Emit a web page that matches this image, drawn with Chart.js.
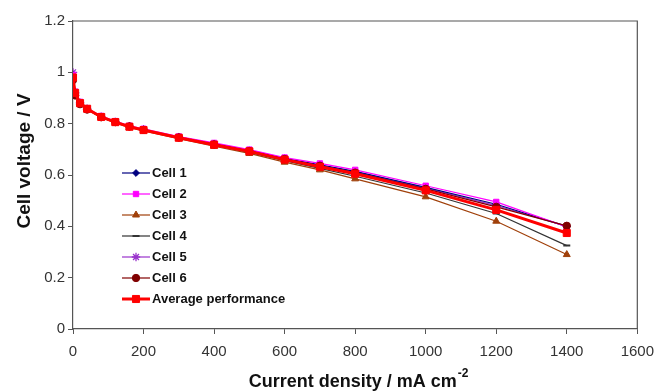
<!DOCTYPE html>
<html>
<head>
<meta charset="utf-8">
<script src="https://cdn.jsdelivr.net/npm/chart.js@4/dist/chart.umd.min.js"></script>
<style>
  html, body { margin: 0; padding: 0; background: #fff; }
  #wrap { width: 663px; height: 391px; position: relative; }
</style>
</head>
<body>
<div id="wrap"><canvas id="chart"></canvas></div>
<script>
// current density (mA cm-2)
const currentDensity = [0, 6, 20, 40, 80, 120, 160, 200, 300, 400, 500, 600, 700, 800, 1000, 1200, 1400];

// cell voltages (V)
const cell1 = [0.99, 0.92, 0.88, 0.858, 0.827, 0.807, 0.79, 0.777, 0.748, 0.722, 0.696, 0.665, 0.64, 0.614, 0.552, 0.486, 0.40];
const cell2 = [0.99, 0.925, 0.885, 0.86, 0.83, 0.81, 0.792, 0.78, 0.75, 0.725, 0.699, 0.668, 0.645, 0.62, 0.558, 0.495, 0.398];
const cell3 = [0.98, 0.915, 0.878, 0.855, 0.824, 0.803, 0.785, 0.772, 0.742, 0.712, 0.684, 0.65, 0.62, 0.585, 0.515, 0.42, 0.29];
const cell4 = [0.98, 0.915, 0.878, 0.856, 0.825, 0.805, 0.787, 0.774, 0.744, 0.716, 0.688, 0.656, 0.626, 0.595, 0.53, 0.45, 0.325];
const cell5 = [1.0, 0.92, 0.882, 0.858, 0.827, 0.807, 0.79, 0.777, 0.747, 0.72, 0.694, 0.663, 0.638, 0.611, 0.549, 0.481, 0.40];
const cell6 = [0.97, 0.91, 0.876, 0.855, 0.825, 0.806, 0.789, 0.776, 0.746, 0.719, 0.693, 0.662, 0.636, 0.609, 0.546, 0.476, 0.402];
const average = [0.98, 0.92, 0.88, 0.858, 0.826, 0.806, 0.788, 0.775, 0.745, 0.718, 0.692, 0.66, 0.632, 0.605, 0.54, 0.464, 0.374];

const seriesNames = ["Cell 1", "Cell 2", "Cell 3", "Cell 4", "Cell 5", "Cell 6", "Average performance"];

const xTicks = [0, 200, 400, 600, 800, 1000, 1200, 1400, 1600];
const yTicks = [0, 0.2, 0.4, 0.6, 0.8, 1, 1.2];

const FONT = "'Liberation Sans', Arial, sans-serif";
const toXY = ys => currentDensity.map((x, i) => ({ x, y: ys[i] }));

function serie(label, ys, color, style, radius, width, order) {
  return {
    label,
    data: toXY(ys),
    borderColor: color,
    backgroundColor: color,
    borderWidth: width,
    pointStyle: style,
    pointRadius: radius,
    pointBorderWidth: style === "line" ? 2 : (style === "star" ? 1.3 : 1),
    pointBorderColor: color,
    pointBackgroundColor: color,
    tension: 0,
    order
  };
}

const datasets = [
  serie(seriesNames[0], cell1, "#000080", "rectRot", 3.4, 1.2, 3),
  serie(seriesNames[1], cell2, "#ff00ff", "rect", 3.8, 1.2, 2),
  serie(seriesNames[2], cell3, "#a0400a", "triangle", 4, 1.2, 4),
  serie(seriesNames[3], cell4, "#333333", "line", 3.5, 1.2, 5),
  serie(seriesNames[4], cell5, "#9933cc", "star", 4.2, 1.2, 6),
  serie(seriesNames[5], cell6, "#800000", "circle", 3.7, 1.2, 1),
  serie(seriesNames[6], average, "#ff0000", "rect", 5, 3, 0)
];

// frame, legend and axis titles
const extras = {
  id: "extras",
  afterDraw(chart) {
    const { ctx, chartArea: a } = chart;
    ctx.save();
    ctx.strokeStyle = "#555";
    ctx.lineWidth = 1.2;
    ctx.beginPath();
    ctx.moveTo(a.left, a.top);
    ctx.lineTo(a.right, a.top);
    ctx.lineTo(a.right, a.bottom);
    ctx.stroke();

    // legend inside plot
    const lx = 122, ly = 173, step = 21;
    chart.data.datasets.forEach((ds, i) => {
      const y = ly + i * step;
      ctx.strokeStyle = ds.borderColor;
      ctx.lineWidth = ds.borderWidth;
      ctx.beginPath();
      ctx.moveTo(lx, y);
      ctx.lineTo(lx + 28, y);
      ctx.stroke();
      ctx.fillStyle = ds.pointBackgroundColor;
      ctx.strokeStyle = ds.pointBorderColor;
      ctx.lineWidth = ds.pointBorderWidth;
      Chart.helpers.drawPoint(ctx, { pointStyle: ds.pointStyle, rotation: 0, radius: ds.pointRadius, borderWidth: ds.pointBorderWidth }, lx + 14, y);
      ctx.fillStyle = "#111";
      ctx.font = "bold 13px " + FONT;
      ctx.textAlign = "left";
      ctx.textBaseline = "middle";
      ctx.fillText(ds.label, lx + 30, y + 0.5);
    });

    // x axis title with superscript
    const main = "Current density / mA cm";
    ctx.font = "bold 18px " + FONT;
    const w1 = ctx.measureText(main).width;
    ctx.font = "bold 12px " + FONT;
    const w2 = ctx.measureText("-2").width;
    const cx = 358, ty = 382;
    const x0 = cx - (w1 + w2) / 2;
    ctx.fillStyle = "#111";
    ctx.textAlign = "left";
    ctx.textBaseline = "middle";
    ctx.font = "bold 18px " + FONT;
    ctx.fillText(main, x0, ty);
    ctx.font = "bold 12px " + FONT;
    ctx.fillText("-2", x0 + w1 + 1, ty - 8);

    // y axis title
    ctx.translate(25, 161);
    ctx.rotate(-Math.PI / 2);
    ctx.textAlign = "center";
    ctx.font = "bold 19px " + FONT;
    ctx.fillText("Cell voltage / V", 0, 0);
    ctx.restore();
  }
};

new Chart(document.getElementById("chart"), {
  type: "line",
  data: { datasets },
  options: {
    responsive: true,
    maintainAspectRatio: false,
    animation: false,
    layout: { padding: { top: 21, right: 24, left: 0, bottom: 0 } },
    plugins: { legend: { display: false }, tooltip: { enabled: false } },
    scales: {
      x: {
        type: "linear",
        min: 0, max: 1600,
        afterBuildTicks: s => { s.ticks = xTicks.map(v => ({ value: v })); },
        afterFit: s => { s.height = 62; },
        border: { display: true, color: "#555", width: 1.2 },
        grid: { display: true, drawOnChartArea: false, drawTicks: true, tickLength: 5, color: "#555" },
        ticks: {
          color: "#333",
          font: { family: FONT, size: 15 },
          padding: 9,
          maxRotation: 0,
          callback: v => String(v)
        }
      },
      y: {
        type: "linear",
        min: 0, max: 1.2,
        afterBuildTicks: s => { s.ticks = yTicks.map(v => ({ value: v })); },
        afterFit: s => { s.width = 73; },
        border: { display: true, color: "#555", width: 1.2 },
        grid: { display: true, drawOnChartArea: false, drawTicks: true, tickLength: 5, color: "#555" },
        ticks: {
          color: "#333",
          font: { family: FONT, size: 15 },
          padding: 3,
          callback: v => String(v)
        }
      }
    }
  },
  plugins: [extras]
});
</script>
</body>
</html>
